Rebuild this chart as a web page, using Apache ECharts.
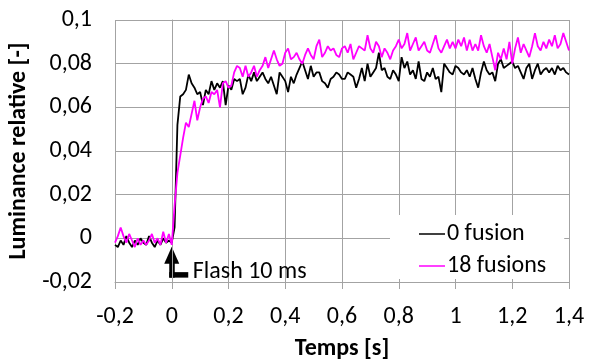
<!DOCTYPE html>
<html>
<head>
<meta charset="utf-8">
<script src="https://cdn.jsdelivr.net/npm/echarts@6/dist/echarts.min.js"></script>
<style>html,body{margin:0;padding:0;background:#fff}#c{width:589px;height:361px}</style>
</head>
<body>
<div id="c"></div>
<script>
// sampling grid (s)
const tStart = -0.2, tStep = 0.01, nPts = 161;
const seriesNames = ['0 fusion', '18 fusions'];
const xTicks = {min: -0.2, max: 1.4, interval: 0.2};
const yTicks = {min: -0.02, max: 0.1, interval: 0.02};
const fusion0 = [
-0.003,-0.004,-0.001,-0.003,0.001,-0.002,-0.004,-0.001,-0.003,0.000,
-0.002,-0.003,0.001,-0.002,-0.004,-0.001,-0.003,0.000,-0.002,-0.001,
-0.002,
0.005,0.052,0.065,0.066,0.068,0.075,0.071,0.069,0.066,0.067,
0.061,0.068,0.066,0.072,0.068,0.071,0.069,0.072,0.061,0.070,
0.068,0.073,0.072,0.073,0.066,0.069,0.075,0.072,0.076,0.072,
0.074,0.076,0.073,0.071,0.074,0.070,0.066,0.076,0.074,0.072,
0.067,0.074,0.071,0.075,0.078,0.081,0.077,0.073,0.079,0.074,
0.076,0.076,0.072,0.071,0.069,0.073,0.074,0.076,0.075,0.073,
0.073,0.076,0.075,0.074,0.069,0.073,0.078,0.072,0.080,0.074,
0.076,0.078,0.085,0.077,0.078,0.074,0.073,0.077,0.075,0.072,
0.083,0.078,0.081,0.075,0.077,0.073,0.081,0.073,0.072,0.076,
0.074,0.078,0.073,0.074,0.067,0.080,0.078,0.076,0.075,0.079,
0.078,0.076,0.075,0.077,0.074,0.078,0.073,0.069,0.076,0.081,
0.077,0.075,0.076,0.072,0.080,0.082,0.078,0.079,0.080,0.081,
0.078,0.079,0.076,0.073,0.078,0.080,0.073,0.077,0.080,0.075,
0.077,0.078,0.076,0.078,0.075,0.079,0.077,0.078,0.076,0.075
];
const fusion18 = [
-0.002,0.001,0.005,0.001,-0.002,0.002,-0.001,-0.004,0.000,-0.003,
-0.001,-0.003,-0.001,0.002,-0.002,0.000,-0.003,0.003,-0.002,0.002,
-0.003,
0.015,0.030,0.038,0.046,0.053,0.051,0.057,0.063,0.054,0.060,
0.064,0.065,0.062,0.067,0.066,0.068,0.060,0.071,0.072,0.069,
0.070,0.076,0.079,0.078,0.074,0.079,0.074,0.076,0.079,0.074,
0.077,0.079,0.083,0.078,0.082,0.086,0.082,0.079,0.080,0.085,
0.087,0.082,0.083,0.085,0.082,0.080,0.084,0.087,0.084,0.082,
0.088,0.091,0.083,0.085,0.088,0.086,0.087,0.084,0.083,0.087,
0.088,0.085,0.089,0.082,0.085,0.088,0.087,0.086,0.093,0.087,
0.085,0.090,0.088,0.083,0.087,0.085,0.082,0.086,0.088,0.091,
0.087,0.089,0.094,0.086,0.089,0.092,0.086,0.088,0.090,0.086,
0.085,0.089,0.093,0.087,0.085,0.088,0.091,0.087,0.090,0.087,
0.091,0.088,0.092,0.086,0.091,0.086,0.089,0.086,0.093,0.088,
0.085,0.089,0.083,0.077,0.085,0.082,0.087,0.082,0.090,0.080,
0.087,0.092,0.085,0.089,0.086,0.083,0.088,0.094,0.088,0.086,
0.090,0.087,0.091,0.088,0.093,0.087,0.089,0.094,0.090,0.086
];
const times = [];
for (let i = 0; i < nPts; i++) times.push(Math.round((tStart + i * tStep) * 100) / 100);
const pairs = arr => arr.map((v, i) => [times[i], v]);

const FONT = 'Carlito, Calibri, Lato, sans-serif';
const FS = 24;
const fmt = v => parseFloat(Number(v).toFixed(4)).toString().replace('.', ',');
const gridColor = '#a3a3a3';

const chart = echarts.init(document.getElementById('c'), null, {renderer: 'canvas'});
chart.setOption({
  animation: false,
  backgroundColor: '#fff',
  grid: {left: 115, right: 20, top: 20, bottom: 79, containLabel: false, outerBoundsMode: 'none'},
  xAxis: {
    type: 'value', min: xTicks.min, max: xTicks.max, interval: xTicks.interval,
    name: 'Temps [s]', nameLocation: 'middle', nameGap: 55,
    nameTextStyle: {fontFamily: FONT, fontSize: FS, fontWeight: 'bold', color: '#000'},
    axisLine: {show: true, onZero: false, lineStyle: {color: gridColor, width: 1}},
    axisTick: {show: true, length: 7, lineStyle: {color: gridColor}},
    axisLabel: {formatter: fmt, fontFamily: FONT, fontSize: FS, color: '#000', margin: 23},
    splitLine: {show: true, lineStyle: {color: gridColor, width: 1}}
  },
  yAxis: {
    type: 'value', min: yTicks.min, max: yTicks.max, interval: yTicks.interval,
    name: 'Luminance relative [-]', nameLocation: 'middle', nameGap: 78, nameRotate: 90,
    nameTextStyle: {fontFamily: FONT, fontSize: FS, fontWeight: 'bold', color: '#000'},
    axisLine: {show: true, lineStyle: {color: gridColor, width: 1}},
    axisTick: {show: true, length: 7, lineStyle: {color: gridColor}},
    axisLabel: {formatter: fmt, fontFamily: FONT, fontSize: FS, color: '#000', margin: 23},
    splitLine: {show: true, lineStyle: {color: gridColor, width: 1}}
  },
  legend: {
    orient: 'vertical', left: 390, top: 215,
    padding: [7, 18, 1, 29], backgroundColor: '#fff',
    icon: 'rect', itemWidth: 26, itemHeight: 1.5, itemGap: 8,
    textStyle: {fontFamily: FONT, fontSize: FS, lineHeight: 24, color: '#000', padding: [0, 0, 0, -3]},
    data: seriesNames
  },
  series: [
    {name: seriesNames[0], type: 'line', data: pairs(fusion0), symbol: 'none',
     lineStyle: {color: '#000', width: 1.8}, itemStyle: {color: '#000'}},
    {name: seriesNames[1], type: 'line', data: pairs(fusion18), symbol: 'none',
     lineStyle: {color: '#ff00ff', width: 1.8}, itemStyle: {color: '#ff00ff'}}
  ]
});

// Flash annotation (elbow arrow)
const tip = chart.convertToPixel({gridIndex: 0}, [0, -0.0038]);
const x0 = tip[0], y0 = tip[1];
chart.setOption({
  graphic: [
    {type: 'polygon', shape: {points: [[x0, y0], [x0 - 7.5, y0 + 17], [x0 + 7.5, y0 + 17]]}, style: {fill: '#000'}},
    {type: 'rect', shape: {x: x0 - 2.5, y: y0 + 15, width: 5.5, height: 16}, style: {fill: '#000'}},
    {type: 'rect', shape: {x: x0 - 2.5, y: y0 + 25.5, width: 19, height: 5.5}, style: {fill: '#000'}},
    {type: 'text', x: x0 + 21, y: y0 + 25, style: {text: 'Flash 10 ms', font: FS + 'px ' + FONT, fill: '#000', textVerticalAlign: 'middle'}}
  ]
});
</script>
</body>
</html>
